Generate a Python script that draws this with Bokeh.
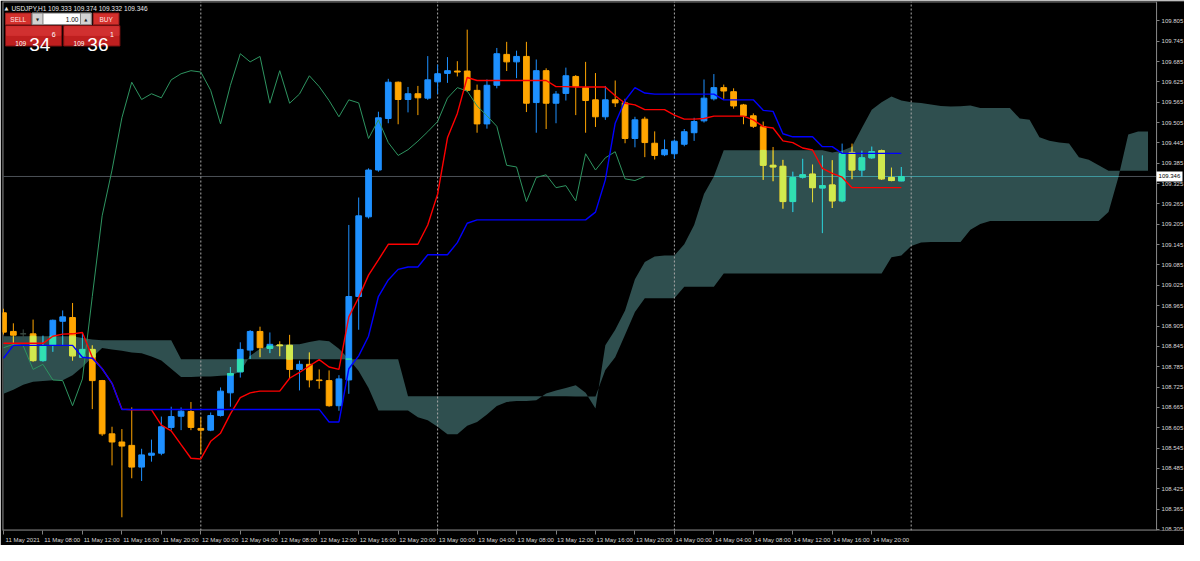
import numpy as np
import pandas as pd
from bokeh.plotting import figure
from bokeh.models import (Range1d, FixedTicker, PrintfTickFormatter, CustomJSTickFormatter,
                          Label, BoxAnnotation, ColumnDataSource, LinearAxis)
from bokeh.embed import file_html
from bokeh.resources import INLINE

# ---------------- data ----------------
symbol = "USDJPY,H1"
first_bar = "2021-05-11 04:00"
bid = 109.346
ask = 109.361
lot_text = "1.00"

opens = [108.944, 108.889, 108.882, 108.882, 108.803, 108.848, 108.919, 108.930, 108.813, 108.836,
         108.744, 108.587, 108.563, 108.553, 108.489, 108.524, 108.530, 108.606, 108.639, 108.653,
         108.603, 108.598, 108.641, 108.708, 108.770, 108.834, 108.889, 108.839, 108.849, 108.848,
         108.777, 108.792, 108.746, 108.744, 108.670, 108.746, 108.992, 109.227, 109.365, 109.517,
         109.624, 109.573, 109.590, 109.577, 109.625, 109.650, 109.657, 109.657, 109.600, 109.501,
         109.615, 109.706, 109.684, 109.700, 109.564, 109.658, 109.562, 109.591, 109.641, 109.608,
         109.572, 109.522, 109.572, 109.563, 109.458, 109.515, 109.444, 109.410, 109.413, 109.441,
         109.475, 109.510, 109.575, 109.608, 109.596, 109.557, 109.525, 109.493, 109.379, 109.376,
         109.272, 109.344, 109.353, 109.312, 109.321, 109.274, 109.417, 109.365, 109.401, 109.422,
         109.343, 109.333]
highs = [108.956, 108.913, 108.895, 108.924, 108.877, 108.924, 108.951, 108.973, 108.884, 108.848,
         108.746, 108.608, 108.601, 108.665, 108.543, 108.570, 108.638, 108.667, 108.665, 108.681,
         108.636, 108.650, 108.724, 108.784, 108.857, 108.893, 108.903, 108.886, 108.860, 108.879,
         108.803, 108.827, 108.777, 108.774, 108.760, 109.203, 109.284, 109.370, 109.537, 109.634,
         109.626, 109.610, 109.613, 109.701, 109.676, 109.698, 109.686, 109.779, 109.617, 109.632,
         109.725, 109.743, 109.717, 109.743, 109.691, 109.665, 109.598, 109.667, 109.645, 109.684,
         109.651, 109.613, 109.629, 109.575, 109.522, 109.522, 109.479, 109.455, 109.455, 109.486,
         109.519, 109.632, 109.648, 109.617, 109.606, 109.560, 109.532, 109.508, 109.433, 109.395,
         109.360, 109.398, 109.381, 109.408, 109.394, 109.443, 109.443, 109.422, 109.434, 109.425,
         109.372, 109.374]
lows = [108.880, 108.846, 108.860, 108.800, 108.800, 108.829, 108.846, 108.803, 108.811, 108.660,
        108.581, 108.494, 108.341, 108.456, 108.448, 108.505, 108.524, 108.598, 108.598, 108.598,
        108.527, 108.595, 108.638, 108.667, 108.753, 108.808, 108.813, 108.825, 108.816, 108.751,
        108.715, 108.724, 108.720, 108.667, 108.655, 108.705, 108.894, 109.222, 109.360, 109.503,
        109.500, 109.535, 109.527, 109.572, 109.589, 109.622, 109.641, 109.595, 109.475, 109.487,
        109.606, 109.657, 109.636, 109.536, 109.475, 109.486, 109.503, 109.570, 109.527, 109.475,
        109.492, 109.513, 109.551, 109.444, 109.432, 109.403, 109.396, 109.406, 109.398, 109.435,
        109.451, 109.505, 109.570, 109.575, 109.546, 109.500, 109.489, 109.336, 109.332, 109.251,
        109.241, 109.340, 109.270, 109.179, 109.253, 109.270, 109.338, 109.346, 109.398, 109.336,
        109.332, 109.332]
closes = [108.887, 108.878, 108.882, 108.803, 108.846, 108.922, 108.932, 108.817, 108.836, 108.744,
          108.587, 108.563, 108.551, 108.489, 108.525, 108.530, 108.608, 108.638, 108.654, 108.606,
          108.598, 108.641, 108.713, 108.765, 108.836, 108.889, 108.841, 108.851, 108.847, 108.777,
          108.792, 108.746, 108.744, 108.670, 108.749, 108.992, 109.230, 109.365, 109.519, 109.624,
          109.573, 109.590, 109.578, 109.631, 109.649, 109.658, 109.654, 109.600, 109.501, 109.615,
          109.708, 109.684, 109.700, 109.562, 109.658, 109.562, 109.589, 109.643, 109.611, 109.570,
          109.522, 109.572, 109.563, 109.458, 109.513, 109.446, 109.408, 109.425, 109.450, 109.478,
          109.508, 109.577, 109.608, 109.598, 109.554, 109.525, 109.494, 109.379, 109.374, 109.272,
          109.343, 109.351, 109.313, 109.319, 109.274, 109.413, 109.365, 109.401, 109.419, 109.339,
          109.334, 109.346]

tenkan = [108.854, 108.854, 108.854, 108.854, 108.854, 108.875, 108.881, 108.882, 108.886, 108.813,
          108.779, 108.736, 108.660, 108.658, 108.658, 108.658, 108.613, 108.596, 108.555, 108.515,
          108.513, 108.565, 108.589, 108.646, 108.694, 108.708, 108.713, 108.713, 108.713, 108.751,
          108.768, 108.787, 108.806, 108.784, 108.777, 108.932, 108.989, 109.055, 109.100, 109.146,
          109.146, 109.146, 109.146, 109.203, 109.294, 109.460, 109.532, 109.638, 109.629, 109.629,
          109.629, 109.629, 109.629, 109.629, 109.629, 109.629, 109.611, 109.611, 109.610, 109.610,
          109.610, 109.610, 109.584, 109.562, 109.557, 109.543, 109.543, 109.543, 109.527, 109.515,
          109.515, 109.517, 109.524, 109.524, 109.524, 109.524, 109.513, 109.493, 109.489, 109.451,
          109.446, 109.430, 109.424, 109.370, 109.355, 109.344, 109.313, 109.313, 109.313, 109.313,
          109.313, 109.313]
kijun = [108.810, 108.848, 108.848, 108.848, 108.848, 108.848, 108.848, 108.848, 108.813, 108.810,
         108.779, 108.736, 108.659, 108.659, 108.659, 108.659, 108.659, 108.659, 108.659, 108.659,
         108.659, 108.659, 108.659, 108.659, 108.659, 108.659, 108.659, 108.659, 108.659, 108.659,
         108.659, 108.659, 108.659, 108.622, 108.622, 108.779, 108.817, 108.875, 108.992, 109.041,
         109.072, 109.079, 109.079, 109.115, 109.115, 109.115, 109.151, 109.208, 109.218, 109.218,
         109.218, 109.218, 109.218, 109.218, 109.218, 109.218, 109.218, 109.218, 109.218, 109.218,
         109.241, 109.336, 109.503, 109.570, 109.608, 109.592, 109.589, 109.589, 109.589, 109.589,
         109.589, 109.589, 109.589, 109.572, 109.572, 109.572, 109.572, 109.541, 109.538, 109.472,
         109.463, 109.463, 109.463, 109.434, 109.434, 109.414, 109.414, 109.414, 109.414, 109.414,
         109.414, 109.414]

span_a = [108.705, 108.717, 108.732, 108.741, 108.743, 108.745, 108.745, 108.760, 108.784, 108.813,
          108.840, 108.836, 108.832, 108.827, 108.825, 108.815, 108.803, 108.779, 108.755, 108.755,
          108.756, 108.756, 108.758, 108.760, 108.770, 108.817, 108.838, 108.846, 108.850, 108.851,
          108.851, 108.858, 108.863, 108.860, 108.838, 108.808, 108.772, 108.722, 108.656, 108.656,
          108.656, 108.656, 108.636, 108.627, 108.608, 108.586, 108.586, 108.611, 108.622, 108.644,
          108.669, 108.681, 108.684, 108.684, 108.686, 108.706, 108.715, 108.722, 108.730, 108.708,
          108.662, 108.848, 108.894, 108.951, 109.043, 109.094, 109.110, 109.113, 109.113, 109.146,
          109.203, 109.294, 109.346, 109.423, 109.423, 109.423, 109.423, 109.423, 109.423, 109.423,
          109.423, 109.423, 109.423, 109.423, 109.417, 109.422, 109.434, 109.489, 109.543, 109.565,
          109.582, 109.570, 109.565, 109.563, 109.558, 109.554, 109.552, 109.553, 109.555, 109.548,
          109.548, 109.548, 109.548, 109.517, 109.513, 109.462, 109.451, 109.446, 109.443, 109.403,
          109.395, 109.379, 109.363, 109.363, 109.363, 109.363, 109.363]
span_b = [108.875, 108.875, 108.875, 108.875, 108.875, 108.875, 108.875, 108.875, 108.870, 108.865,
          108.863, 108.863, 108.863, 108.863, 108.863, 108.863, 108.863, 108.863, 108.807, 108.807,
          108.807, 108.807, 108.807, 108.807, 108.807, 108.807, 108.807, 108.807, 108.807, 108.807,
          108.807, 108.807, 108.807, 108.807, 108.807, 108.807, 108.807, 108.807, 108.807, 108.807,
          108.807, 108.698, 108.698, 108.698, 108.698, 108.698, 108.698, 108.698, 108.698, 108.698,
          108.698, 108.698, 108.698, 108.698, 108.698, 108.698, 108.698, 108.698, 108.697, 108.697,
          108.697, 108.775, 108.813, 108.879, 108.946, 108.987, 108.987, 108.987, 108.987, 109.021,
          109.021, 109.021, 109.021, 109.060, 109.060, 109.060, 109.060, 109.060, 109.060, 109.060,
          109.060, 109.060, 109.060, 109.060, 109.060, 109.060, 109.060, 109.060, 109.060, 109.060,
          109.108, 109.113, 109.141, 109.151, 109.153, 109.153, 109.153, 109.153, 109.189, 109.206,
          109.215, 109.215, 109.215, 109.215, 109.215, 109.215, 109.215, 109.215, 109.215, 109.215,
          109.215, 109.215, 109.241, 109.344, 109.470, 109.479, 109.479]

y_ticks = [108.305, 108.365, 108.425, 108.485, 108.545, 108.605, 108.665, 108.725, 108.785,
           108.845, 108.905, 108.965, 109.025, 109.085, 109.145, 109.205, 109.265, 109.325,
           109.385, 109.445, 109.505, 109.565, 109.625, 109.685, 109.745, 109.805]

# ---------------- styling constants ----------------
BULL = "#1E90FF"
BEAR = "#FFA500"
DOJI = "#3c4c44"
CLOUD = "#2F4F4F"
FONT = "Liberation Sans"
AX = "#808080"
TXT = "#D8D8D8"


def xor_hex(c1, c2):
    a = int(c1[1:], 16)
    b = int(c2[1:], 16)
    return "#%06X" % (a ^ b)


n = len(opens)
idx = np.arange(n)
m = len(span_a)
cidx = np.arange(m)
times = pd.date_range(first_bar, periods=m + 1, freq="h")

# x axis labels every 4 bars, left-aligned after tick
tick_idx = list(range(0, n, 4))
x_labels = [times[0].strftime("%d %b %Y")] + [times[i].strftime("%d %b %H:%M") for i in tick_idx[1:]]
LAB_OFF = 1.95
label_pos = [i + LAB_OFF for i in tick_idx]
day_starts = [i for i in range(1, n + 1) if times[i].hour == 0]

FW, FH = 1182, 530          # frame size in px
X0, XE = -0.1, 119.7        # full frame (price scale lives inside it on the right)
X1 = 116.87                 # right edge of the chart area / price scale line
Y0, Y1 = 108.302, 109.862
PX = (XE - X0) / FW
PY = (Y1 - Y0) / FH

p = figure(width=1184, height=545, x_range=Range1d(X0, XE), y_range=Range1d(Y0, Y1),
           output_backend="svg", toolbar_location=None, y_axis_location="right",
           background_fill_color="black", border_fill_color="black",
           outline_line_color=None,
           min_border_left=2, min_border_top=1, min_border_right=0, min_border_bottom=14)
p.grid.visible = False

# y axis (price scale) pinned at the chart's right edge
ya = p.yaxis[0]
ya.fixed_location = X1
ya.ticker = FixedTicker(ticks=y_ticks)
ya.formatter = PrintfTickFormatter(format="%.3f")
ya.major_tick_out = 3
ya.major_tick_in = 0
ya.minor_tick_out = 0
ya.minor_tick_in = 0
ya.major_label_standoff = 2
ya.axis_line_color = AX
ya.major_tick_line_color = AX
ya.major_label_text_color = TXT
ya.major_label_text_font = FONT
ya.major_label_text_font_size = "6px"

# x axis
xa = p.xaxis[0]
xa.ticker = FixedTicker(ticks=label_pos, minor_ticks=tick_idx)
xa.formatter = CustomJSTickFormatter(args=dict(labels=x_labels, off=LAB_OFF, step=4), code="""
const k = Math.round((tick - off) / step);
return (k >= 0 && k < labels.length) ? labels[k] : "";
""")
xa.major_tick_out = 0
xa.major_tick_in = 0
xa.minor_tick_out = 4
xa.minor_tick_in = 0
xa.minor_tick_line_color = AX
xa.axis_line_color = None
xa.major_label_standoff = 2
xa.major_label_text_color = TXT
xa.major_label_text_font = FONT
xa.major_label_text_font_size = "6px"

# chart border (left, top, right, bottom) ending at the price scale
p.line([X1, X0 + 0.5 * PX, X0 + 0.5 * PX, X1, X1],
       [Y0 + 0.5 * PY, Y0 + 0.5 * PY, Y1 - 0.5 * PY, Y1 - 0.5 * PY, Y0 + 0.5 * PY],
       line_color=AX, line_width=1)

# ---------------- cloud ----------------
p.varea(x=cidx, y1=span_a, y2=span_b, fill_color=CLOUD, fill_alpha=1.0)

# bid line (grey outside cloud, tinted inside)
p.line([X0, X1], [bid, bid], line_color="#4c5157", line_width=1)
xs_f = np.linspace(0, m - 1, 3000)
a_f = np.interp(xs_f, cidx, span_a)
b_f = np.interp(xs_f, cidx, span_b)
inside = (np.minimum(a_f, b_f) <= bid) & (np.maximum(a_f, b_f) >= bid)
seg_x0, seg_x1 = [], []
start = None
for k, flag in enumerate(inside):
    if flag and start is None:
        start = xs_f[k]
    if (not flag or k == len(inside) - 1) and start is not None:
        seg_x0.append(start)
        seg_x1.append(xs_f[k])
        start = None
p.segment(x0=seg_x0, x1=seg_x1, y0=[bid] * len(seg_x0), y1=[bid] * len(seg_x0),
          line_color="#3f9aa0", line_width=1)

# day separators
p.segment(x0=day_starts, x1=day_starts, y0=[Y0] * len(day_starts), y1=[Y1] * len(day_starts),
          line_color="#a8a8a8", line_width=1, line_dash="2 2")

# ---------------- candles ----------------
o = np.array(opens)
c = np.array(closes)
h = np.array(highs)
lo = np.array(lows)
colors = [BULL if cc > oo else (BEAR if cc < oo else DOJI) for oo, cc in zip(opens, closes)]
top = np.maximum(o, c)
bot = np.minimum(o, c)
src = ColumnDataSource(dict(x=idx, top=top, bot=bot, hi=h, lo=lo, color=colors))
p.segment(x0="x", x1="x", y0="lo", y1="hi", line_color="color", line_width=1, source=src)
W = 0.58
p.vbar(x="x", width=W, top="top", bottom="bot", fill_color="color", line_color="color",
       line_width=1, source=src)

# parts of candles inside the cloud (XOR blend like the terminal draws)
cl_lo = np.minimum(np.array(span_a[:n]), np.array(span_b[:n]))
cl_hi = np.maximum(np.array(span_a[:n]), np.array(span_b[:n]))
bx, bt, bb, bc = [], [], [], []
wx, wt, wb, wc = [], [], [], []
for i in range(n):
    if colors[i] == DOJI:
        continue
    xc = xor_hex(colors[i], CLOUD)
    t_ = min(top[i], cl_hi[i])
    b_ = max(bot[i], cl_lo[i])
    if t_ > b_:
        bx.append(i); bt.append(t_); bb.append(b_); bc.append(xc)
    t2 = min(h[i], cl_hi[i])
    b2 = max(lo[i], cl_lo[i])
    if t2 > b2:
        wx.append(i); wt.append(t2); wb.append(b2); wc.append(xc)
p.segment(x0=wx, x1=wx, y0=wb, y1=wt, line_color=wc, line_width=1, line_alpha=0.75)
p.vbar(x=bx, width=W, top=bt, bottom=bb, fill_color=bc, line_color=bc, line_width=1)

# ---------------- ichimoku lines ----------------
p.line(x=idx[26:] - 26, y=closes[26:], line_color="#2E9460", line_width=1)
p.line(x=idx, y=tenkan, line_color="#FF0000", line_width=1.4)
p.line(x=idx, y=kijun, line_color="#0000FF", line_width=1.4)

# bid price tag: extra axis pinned on the price scale, its single tick drawn as a white block
tag = LinearAxis(fixed_location=X1, ticker=FixedTicker(ticks=[bid]),
                 formatter=PrintfTickFormatter(format="%.3f"),
                 axis_line_color=None, major_tick_line_color="white", major_tick_line_width=10,
                 major_tick_out=26, major_tick_in=0, minor_tick_line_color=None,
                 major_label_standoff=-24, major_label_text_color="black",
                 major_label_text_font=FONT, major_label_text_font_size="6px")
p.add_layout(tag, "right")


# ---------------- header & one-click panel (reference pixel layout) ----------------
def px2x(px):
    return (px - 3.0) / 10.0


def py2y(py):
    return 109.805 - (py - 21.0) / 350.0


def box(x0, y0, x1, y1, fill, line):
    p.add_layout(BoxAnnotation(left=px2x(x0), right=px2x(x1), top=py2y(y0), bottom=py2y(y1),
                               fill_color=fill, fill_alpha=1.0, line_color=line, line_width=1,
                               line_alpha=1.0))


def txt(x, y, s, size, color="white", align="left", baseline="alphabetic", font=FONT):
    p.add_layout(Label(x=px2x(x), y=py2y(y), text=s, text_font=font, text_font_size=size,
                       text_color=color, text_align=align, text_baseline=baseline))


txt(4, 8, "\u25B2", "5px", color="#E0E0E0", font="DejaVu Sans")
txt(11, 8.5, "%s  %.3f %.3f %.3f %.3f" % (symbol, opens[-1], highs[-1], lows[-1], closes[-1]),
    "6.5px", color="#E8E8E8")

# SELL / lot / BUY row
box(5, 13, 31, 25, "#D4302C", "#9A1F1F")
txt(18, 19.5, "SELL", "6.5px", color="#FFE2E2", align="center", baseline="middle")
box(32, 13, 92, 25, "#FFFFFF", "#7F7F7F")
box(32, 13, 43, 25, "#D2D2D2", "#7F7F7F")
box(81, 13, 92, 25, "#D2D2D2", "#7F7F7F")
txt(37.5, 19.5, "\u25BC", "4px", color="#202020", align="center", baseline="middle", font="DejaVu Sans")
txt(86.5, 19.5, "\u25B2", "4px", color="#202020", align="center", baseline="middle", font="DejaVu Sans")
txt(79, 19.5, lot_text, "6.5px", color="black", align="right", baseline="middle")
box(94, 13, 120, 25, "#D4302C", "#9A1F1F")
txt(107, 19.5, "BUY", "6.5px", color="#FFE2E2", align="center", baseline="middle")

# price boxes
for (x0, x1, price) in [(5, 62, bid), (64, 121, ask)]:
    s = "%.3f" % price
    box(x0, 26, x1, 47, "#BF1F1F", "#7A1010")
    box(x0 + 1, 27, x1 - 1, 36, "#D13030", "#D13030")
    txt(x0 + 10, 44, s[:3], "6.5px")
    txt(x0 + 24, 45, s[4:6], "19px")
    txt(x0 + 47, 35, s[6:], "7px")

open("out.html", "w").write(file_html(p, INLINE))
